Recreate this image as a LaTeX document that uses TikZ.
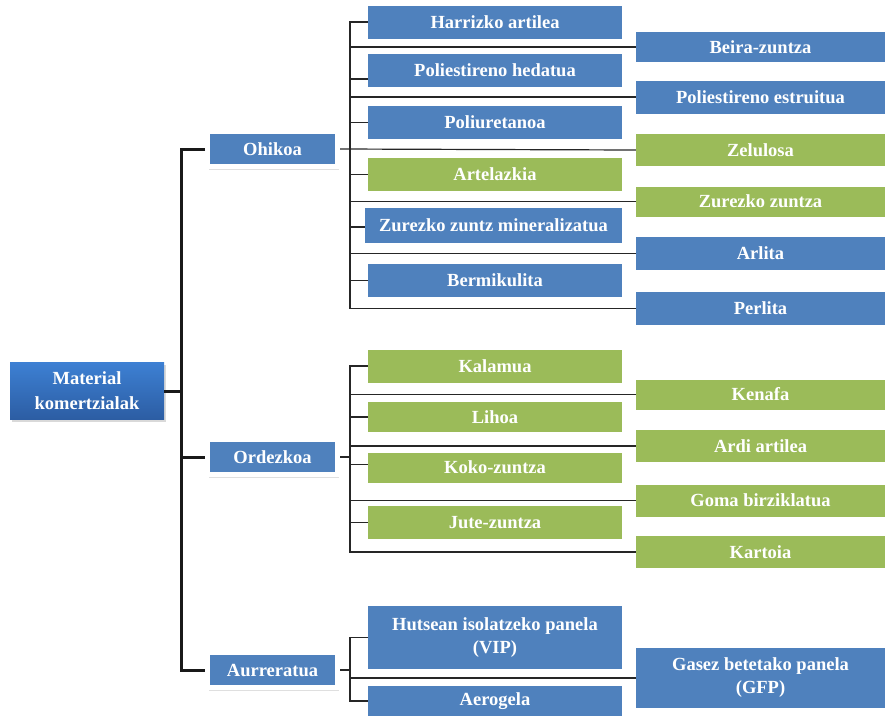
\documentclass[tikz,border=0pt]{standalone}
\usepackage{fontspec}
\setmainfont{Liberation Serif}
\usetikzlibrary{shadows}
\definecolor{matblue}{HTML}{4F81BD}
\definecolor{matgreen}{HTML}{9BBB59}
\definecolor{roottop}{HTML}{3D80D3}
\definecolor{rootbottom}{HTML}{2C5DA3}
\begin{document}
\begin{tikzpicture}[x=1pt,y=-1pt,
    every node/.style={text=white,inner sep=0pt,align=center,
      font=\bfseries\fontsize{18.5}{23}\selectfont},
    leftbox/.style={rectangle,minimum width=254pt,minimum height=33pt},
    rightbox/.style={rectangle,minimum width=249pt,minimum height=32pt},
    bluebox/.style={fill=matblue},
    greenbox/.style={fill=matgreen},
    catbox/.style={rectangle,fill=matblue,draw=white,line width=5pt,
      minimum width=130pt,minimum height=35pt,
      drop shadow={opacity=0.25,shadow xshift=1pt,shadow yshift=-3pt}},
    rootbox/.style={rectangle,top color=roottop,bottom color=rootbottom,
      minimum width=154pt,minimum height=57pt,
      font=\bfseries\fontsize{18.5}{25}\selectfont,
      drop shadow={opacity=0.3,shadow xshift=1.5pt,shadow yshift=-2.5pt}},
    twig/.style={draw=black!85,line width=1.2pt},
    trunk/.style={draw=black!90,line width=3pt}]
  \useasboundingbox (0,0) rectangle (885,716);

  \node[rootbox] (root) at (87,391) {Material\\komertzialak};

  \node[catbox] (ohikoa) at (272.5,149) {Ohikoa};
  \node[catbox] (ordezkoa) at (272.5,457) {Ordezkoa};
  \node[catbox] (aurreratua) at (272.5,670) {Aurreratua};

  % ohikoa
  \node[leftbox,bluebox] (harrizko) at (495,22) {Harrizko artilea};
  \node[leftbox,bluebox] (polihed) at (495,70) {Poliestireno hedatua};
  \node[leftbox,bluebox] (poliur) at (495,122.5) {Poliuretanoa};
  \node[leftbox,greenbox] (artelazkia) at (495,174.5) {Artelazkia};
  \node[leftbox,bluebox,minimum width=257pt,minimum height=35pt] (zurmin) at (493.5,225) {Zurezko zuntz mineralizatua};
  \node[leftbox,bluebox] (bermikulita) at (495,280.5) {Bermikulita};
  \node[rightbox,bluebox,minimum height=30pt] (beira) at (760.5,47) {Beira-zuntza};
  \node[rightbox,bluebox,minimum height=33pt] (poliestru) at (760.5,97) {Poliestireno estruitua};
  \node[rightbox,greenbox] (zelulosa) at (760.5,150) {Zelulosa};
  \node[rightbox,greenbox,minimum height=30pt] (zurzuntza) at (760.5,201.5) {Zurezko zuntza};
  \node[rightbox,bluebox,minimum height=33pt] (arlita) at (760.5,253.5) {Arlita};
  \node[rightbox,bluebox,minimum height=33pt] (perlita) at (760.5,308.5) {Perlita};

  % ordezkoa
  \node[leftbox,greenbox] (kalamua) at (495,366) {Kalamua};
  \node[leftbox,greenbox,minimum height=30pt] (lihoa) at (495,417) {Lihoa};
  \node[leftbox,greenbox,minimum height=30pt] (koko) at (495,467.5) {Koko-zuntza};
  \node[leftbox,greenbox] (jute) at (495,522.5) {Jute-zuntza};
  \node[rightbox,greenbox,minimum height=30pt] (kenafa) at (760.5,394.5) {Kenafa};
  \node[rightbox,greenbox] (ardi) at (760.5,446) {Ardi artilea};
  \node[rightbox,greenbox] (goma) at (760.5,500.5) {Goma birziklatua};
  \node[rightbox,greenbox] (kartoia) at (760.5,552) {Kartoia};

  % aurreratua
  \node[leftbox,bluebox,minimum height=63pt] (vip) at (495,637.5) {Hutsean isolatzeko panela\\(VIP)};
  \node[leftbox,bluebox,minimum height=30pt] (aerogela) at (495,701) {Aerogela};
  \node[rightbox,bluebox,minimum height=60pt] (gfp) at (760.5,678) {Gasez betetako panela\\(GFP)};

  \coordinate (mainbus) at (181,0);
  \coordinate (ohbus) at (350,0);
  \coordinate (ordbus) at (350,0);
  \coordinate (aurbus) at (350,0);

  \draw[trunk] (root.east) -- (root.east -| mainbus);
  \draw[trunk] (ohikoa.west) -- (ohikoa.west -| mainbus) -- (aurreratua.west -| mainbus) -- (aurreratua.west);
  \draw[trunk] (ordezkoa.west -| mainbus) -- (ordezkoa.west);

  \draw[twig] (harrizko.west) -- (harrizko.west -| ohbus) -- (perlita.west -| ohbus) -- (perlita.west);
  \draw[twig] (ohikoa.east) -- (zelulosa.west);
  \draw[twig] ([yshift=-9pt]polihed.west) -- ([yshift=-9pt]polihed.west -| ohbus);
  \draw[twig] (poliur.west) -- (poliur.west -| ohbus);
  \draw[twig] (artelazkia.west) -- (artelazkia.west -| ohbus);
  \draw[twig] ([yshift=-2pt]zurmin.west) -- ([yshift=-2pt]zurmin.west -| ohbus);
  \draw[twig] (bermikulita.west) -- (bermikulita.west -| ohbus);
  \draw[twig] (beira.west) -- (beira.west -| ohbus);
  \draw[twig] (poliestru.west) -- (poliestru.west -| ohbus);
  \draw[twig] (zurzuntza.west) -- (zurzuntza.west -| ohbus);
  \draw[twig] (arlita.west) -- (arlita.west -| ohbus);

  \draw[twig] (kalamua.west) -- (kalamua.west -| ordbus) -- (kartoia.west -| ordbus) -- (kartoia.west);
  \draw[twig] (ordezkoa.east) -- (ordezkoa.east -| ordbus);
  \draw[twig] (lihoa.west) -- (lihoa.west -| ordbus);
  \draw[twig] ([yshift=3pt]koko.west) -- ([yshift=3pt]koko.west -| ordbus);
  \draw[twig] (jute.west) -- (jute.west -| ordbus);
  \draw[twig] (kenafa.west) -- (kenafa.west -| ordbus);
  \draw[twig] (ardi.west) -- (ardi.west -| ordbus);
  \draw[twig] (goma.west) -- (goma.west -| ordbus);

  \draw[twig] (vip.west) -- (vip.west -| aurbus) -- (aerogela.west -| aurbus) -- (aerogela.west);
  \draw[twig] (aurreratua.east) -- (aurreratua.east -| aurbus);
  \draw[twig] (gfp.west) -- (gfp.west -| aurbus);
\end{tikzpicture}
\end{document}
